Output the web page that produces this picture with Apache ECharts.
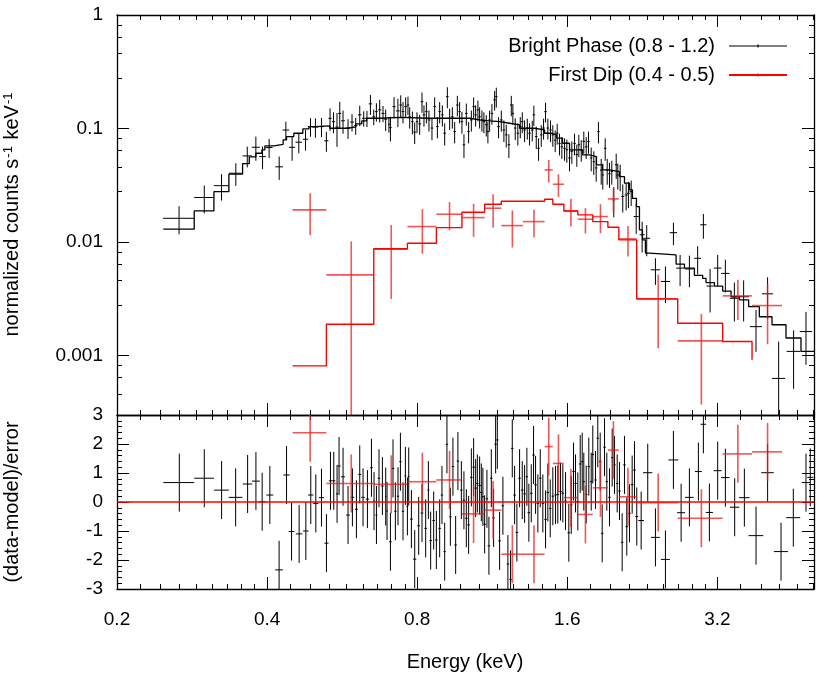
<!DOCTYPE html>
<html>
<head>
<meta charset="utf-8">
<script src="https://cdn.jsdelivr.net/npm/echarts@6/dist/echarts.min.js"></script>
<style>
  html, body { margin: 0; background: #fff; }
  #chart { width: 830px; height: 692px; }
</style>
</head>
<body>
<div id="chart"></div>
<script>
// ---- bright phase (black) spectrum: bin centre, half width, flux, error ----
const brightE = [0.2664, 0.2993, 0.3241, 0.3462, 0.365, 0.3798, 0.3917, 0.4038, 0.423, 0.4362, 0.449, 0.4631, 0.4777, 0.4888, 0.5, 0.5142, 0.526, 0.535, 0.5435, 0.5524,
  0.5595, 0.568, 0.5813, 0.5921, 0.6023, 0.6136, 0.625, 0.6344, 0.6447, 0.6546, 0.6626, 0.6729, 0.6832, 0.6917, 0.7021, 0.707, 0.7189, 0.7319, 0.7414, 0.7493,
  0.7586, 0.7667, 0.7728, 0.7825, 0.7908, 0.7993, 0.8093, 0.8179, 0.8255, 0.8347, 0.8448, 0.8565, 0.8673, 0.8782, 0.8875, 0.8986, 0.9083, 0.9196, 0.9294, 0.941,
  0.9511, 0.963, 0.9733, 0.9837, 0.9929, 1.0038, 1.0144, 1.0273, 1.0383, 1.0479, 1.0591, 1.0674, 1.0788, 1.0887, 1.1008, 1.109, 1.1178, 1.1298, 1.1439, 1.1528,
  1.165, 1.1798, 1.194, 1.207, 1.2218, 1.2355, 1.2445, 1.2582, 1.2734, 1.2878, 1.2998, 1.3137, 1.3302, 1.3443, 1.3611, 1.3712, 1.3865, 1.4014, 1.4189, 1.4341,
  1.4473, 1.4628, 1.481, 1.4968, 1.5132, 1.5272, 1.5439, 1.5604, 1.58, 1.5968, 1.6168, 1.6341, 1.6546, 1.6721, 1.6877, 1.7065, 1.7269, 1.7462, 1.7647, 1.787,
  1.8084, 1.8285, 1.8478, 1.8715, 1.8852, 1.9062, 1.924, 1.9444, 1.9652, 1.9834, 2.0056, 2.0204, 2.0427, 2.0673, 2.0999, 2.1222, 2.1493, 2.1996, 2.2609, 2.3091,
  2.4042, 2.5178, 2.6123, 2.6942, 2.8124, 2.9217, 3.0, 3.0943, 3.2047, 3.3204, 3.4614, 3.6128, 3.8252, 4.0354, 4.2467, 4.5504, 4.8184];
const brightHw = [0.019, 0.0136, 0.0112, 0.011, 0.0079, 0.007, 0.006, 0.0065, 0.0075, 0.0065, 0.0065, 0.007, 0.006, 0.006, 0.007, 0.006, 0.005, 0.004, 0.004, 0.004,
  0.004, 0.005, 0.005, 0.005, 0.005, 0.005, 0.005, 0.005, 0.005, 0.004, 0.004, 0.005, 0.005, 0.005, 0.003, 0.004, 0.005, 0.006, 0.0045, 0.0045,
  0.0045, 0.0045, 0.0045, 0.0045, 0.0045, 0.0045, 0.005, 0.005, 0.005, 0.005, 0.005, 0.005, 0.005, 0.005, 0.005, 0.005, 0.0055, 0.0055, 0.0055, 0.0055,
  0.0055, 0.0055, 0.0055, 0.0055, 0.0055, 0.006, 0.006, 0.006, 0.006, 0.006, 0.006, 0.006, 0.0065, 0.0065, 0.0065, 0.0065, 0.0065, 0.0065, 0.0065, 0.0065,
  0.007, 0.007, 0.007, 0.007, 0.007, 0.007, 0.007, 0.0075, 0.0075, 0.0075, 0.0075, 0.0075, 0.0075, 0.008, 0.008, 0.008, 0.008, 0.008, 0.008, 0.008,
  0.0085, 0.0085, 0.0085, 0.0085, 0.0085, 0.009, 0.009, 0.009, 0.009, 0.009, 0.0095, 0.0095, 0.0095, 0.0095, 0.0095, 0.01, 0.01, 0.01, 0.01, 0.01,
  0.0105, 0.0105, 0.0105, 0.0105, 0.0105, 0.011, 0.011, 0.011, 0.011, 0.011, 0.0115, 0.0115, 0.012, 0.014, 0.014, 0.014, 0.016, 0.025, 0.026, 0.037,
  0.052, 0.052, 0.044, 0.05, 0.057, 0.047, 0.043, 0.051, 0.056, 0.064, 0.073, 0.09, 0.106, 0.104, 0.127, 0.144, 0.137];
const brightFlux = [0.0162, 0.0247, 0.0314, 0.0404, 0.0574, 0.0684, 0.0566, 0.068, 0.046, 0.097, 0.0684, 0.0758, 0.0805, 0.104, 0.103, 0.104, 0.078, 0.123, 0.115, 0.103,
  0.136, 0.117, 0.101, 0.114, 0.106, 0.132, 0.123, 0.123, 0.165, 0.127, 0.141, 0.146, 0.136, 0.121, 0.109, 0.102, 0.156, 0.143, 0.161, 0.141,
  0.156, 0.161, 0.127, 0.115, 0.093, 0.115, 0.11, 0.1725, 0.132, 0.141, 0.119, 0.101, 0.156, 0.104, 0.141, 0.132, 0.091, 0.191, 0.123, 0.127,
  0.094, 0.161, 0.141, 0.115, 0.072, 0.136, 0.094, 0.119, 0.156, 0.132, 0.146, 0.127, 0.119, 0.115, 0.108, 0.094, 0.119, 0.136, 0.179, 0.191,
  0.104, 0.119, 0.097, 0.088, 0.072, 0.161, 0.136, 0.101, 0.091, 0.104, 0.115, 0.097, 0.101, 0.091, 0.097, 0.132, 0.085, 0.067, 0.088, 0.101,
  0.141, 0.101, 0.097, 0.088, 0.079, 0.091, 0.074, 0.069, 0.067, 0.065, 0.055, 0.063, 0.074, 0.059, 0.072, 0.065, 0.077, 0.069, 0.077, 0.055,
  0.051, 0.045, 0.094, 0.043, 0.039, 0.067, 0.043, 0.04, 0.042, 0.0235, 0.048, 0.039, 0.038, 0.0252, 0.026, 0.0269, 0.0278, 0.0168, 0.0116, 0.0108,
  0.0057, 0.0045, 0.0121, 0.0059, 0.0058, 0.0072, 0.0142, 0.0041, 0.0059, 0.0053, 0.0032, 0.0033, 0.0018, 0.0035, 0.00063, 0.00109, 0.00163];
const brightErr = [0.0045, 0.0068, 0.0082, 0.0091, 0.0119, 0.0164, 0.0127, 0.0131, 0.0107, 0.0178, 0.0164, 0.0152, 0.0166, 0.0194, 0.02, 0.02, 0.0156, 0.0276, 0.024, 0.034,
  0.036, 0.027, 0.02, 0.02, 0.018, 0.027, 0.019, 0.02, 0.033, 0.02, 0.026, 0.033, 0.022, 0.026, 0.017, 0.025, 0.033, 0.04, 0.035, 0.03,
  0.032, 0.03, 0.027, 0.026, 0.02, 0.024, 0.022, 0.035, 0.028, 0.03, 0.025, 0.022, 0.032, 0.022, 0.03, 0.028, 0.02, 0.04, 0.026, 0.027,
  0.02, 0.033, 0.03, 0.025, 0.017, 0.03, 0.02, 0.025, 0.032, 0.028, 0.03, 0.027, 0.025, 0.024, 0.023, 0.02, 0.025, 0.028, 0.035, 0.038,
  0.022, 0.025, 0.021, 0.02, 0.017, 0.033, 0.028, 0.022, 0.02, 0.022, 0.024, 0.021, 0.021, 0.02, 0.02, 0.027, 0.019, 0.015, 0.019, 0.021,
  0.028, 0.021, 0.021, 0.019, 0.017, 0.019, 0.016, 0.015, 0.015, 0.015, 0.013, 0.014, 0.016, 0.013, 0.016, 0.014, 0.017, 0.015, 0.017, 0.013,
  0.012, 0.011, 0.02, 0.011, 0.01, 0.015, 0.011, 0.01, 0.01, 0.007, 0.012, 0.01, 0.01, 0.007, 0.007, 0.007, 0.007, 0.005, 0.0035, 0.0033,
  0.0015, 0.0016, 0.0027, 0.0018, 0.0018, 0.002, 0.0035, 0.0017, 0.0018, 0.0017, 0.0012, 0.0013, 0.00072, 0.0014, 0.0007, 0.00058, 0.0008];

// bright phase model histogram: step start energies and model values
const brightModelE = [0.2476, 0.2857, 0.3129, 0.3353, 0.3572, 0.3684, 0.3798, 0.3905, 0.3959, 0.4126, 0.4308, 0.4376, 0.4526, 0.4718, 0.4852, 0.4986, 0.5343, 0.5805, 0.6023, 0.6193,
  0.6335, 0.6729, 0.738, 0.8475, 1.0193, 1.0674, 1.1178, 1.1706, 1.2258, 1.2837, 1.3757, 1.4407, 1.4878, 1.5223, 1.5654, 1.6168, 1.7167, 1.773, 1.8311, 1.8827,
  1.9444, 2.0362, 2.0838, 2.1324, 2.162, 2.2021, 2.233, 2.264, 2.2955, 2.3385, 2.6445, 2.7483, 2.8781, 2.9902, 3.0368, 3.1563, 3.2794, 3.409, 3.5421, 3.6976,
  3.8845, 4.1188, 4.3932, 4.7085, 5.0];
const brightModel = [0.013, 0.0188, 0.0278, 0.0396, 0.0491, 0.0562, 0.0606, 0.0648, 0.0703, 0.0727, 0.0794, 0.0849, 0.0909, 0.0992, 0.104, 0.1054, 0.1006, 0.1033, 0.1098, 0.1166,
  0.1232, 0.1252, 0.1232, 0.1232, 0.119, 0.1166, 0.115, 0.1113, 0.1076, 0.1006, 0.0972, 0.0909, 0.0878, 0.0822, 0.0742, 0.0648, 0.0586, 0.0566, 0.0478, 0.0432,
  0.0417, 0.0377, 0.033, 0.0288, 0.0243, 0.0205, 0.0128, 0.01045, 0.008, 0.0077, 0.0064, 0.0059, 0.0051, 0.0048, 0.0044, 0.0041, 0.0037, 0.0033, 0.0031, 0.0027,
  0.0022, 0.00187, 0.00143, 0.00109, 0.00109];

// bright phase residuals (data-model)/error
const brightResE = [0.2667, 0.2993, 0.3242, 0.3459, 0.3656, 0.3799, 0.391, 0.4051, 0.4228, 0.4376, 0.4478, 0.4638, 0.4784, 0.4894, 0.5009, 0.5142, 0.5262, 0.536, 0.5442, 0.5526,
  0.5577, 0.5681, 0.5813, 0.5932, 0.6043, 0.6136, 0.623, 0.6358, 0.6477, 0.6555, 0.6628, 0.6707, 0.6813, 0.6918, 0.696, 0.707, 0.7155, 0.7234, 0.7322, 0.7404,
  0.7493, 0.7576, 0.7647, 0.7693, 0.7789, 0.7909, 0.8056, 0.818, 0.832, 0.8425, 0.8514, 0.8633, 0.8741, 0.8875, 0.897, 0.9083, 0.9179, 0.9324, 0.9436, 0.9555,
  0.9656, 0.981, 0.9928, 1.0039, 1.0146, 1.0274, 1.0383, 1.0479, 1.0562, 1.0674, 1.0758, 1.0837, 1.0924, 1.104, 1.1142, 1.1266, 1.1386, 1.1492, 1.1583, 1.1706,
  1.1885, 1.2163, 1.2314, 1.2411, 1.2545, 1.2678, 1.2837, 1.2997, 1.3137, 1.3277, 1.3399, 1.3549, 1.3693, 1.3821, 1.3967, 1.4123, 1.4293, 1.4474, 1.4627, 1.4789,
  1.4968, 1.5156, 1.5317, 1.551, 1.5675, 1.5873, 1.6115, 1.6296, 1.6469, 1.6622, 1.6799, 1.6985, 1.7143, 1.727, 1.7463, 1.7673, 1.787, 1.8001, 1.8228, 1.8421,
  1.8627, 1.88, 1.9003, 1.9205, 1.9444, 1.9687, 1.9899, 2.0148, 2.0362, 2.0617, 2.0838, 2.106, 2.1324, 2.1591, 2.1823, 2.2055, 2.2506, 2.3201, 2.4042, 2.5177,
  2.6122, 2.7068, 2.8124, 2.9316, 3.0, 3.0843, 3.2046, 3.3207, 3.4663, 3.625, 3.8259, 4.036, 4.2937, 4.5442, 4.8185, 4.915];
const brightResHw = [0.019, 0.0136, 0.011, 0.011, 0.008, 0.007, 0.006, 0.0065, 0.0075, 0.0065, 0.006, 0.007, 0.006, 0.006, 0.006, 0.006, 0.005, 0.004, 0.004, 0.003,
  0.004, 0.005, 0.005, 0.005, 0.004, 0.004, 0.005, 0.005, 0.004, 0.003, 0.003, 0.004, 0.004, 0.002, 0.003, 0.004, 0.004, 0.004, 0.004, 0.004,
  0.004, 0.003, 0.003, 0.003, 0.005, 0.006, 0.005, 0.005, 0.005, 0.004, 0.005, 0.005, 0.005, 0.005, 0.005, 0.005, 0.005, 0.0055, 0.0055, 0.0055,
  0.0055, 0.0055, 0.0055, 0.006, 0.006, 0.006, 0.006, 0.006, 0.006, 0.006, 0.006, 0.006, 0.0065, 0.0065, 0.0065, 0.0065, 0.0065, 0.0065, 0.0065, 0.007,
  0.007, 0.007, 0.007, 0.007, 0.0075, 0.0075, 0.0075, 0.0075, 0.0075, 0.0075, 0.008, 0.008, 0.008, 0.008, 0.008, 0.008, 0.008, 0.0085, 0.0085, 0.0085,
  0.0085, 0.0085, 0.009, 0.009, 0.009, 0.009, 0.0095, 0.0095, 0.0095, 0.0095, 0.0095, 0.01, 0.01, 0.01, 0.01, 0.01, 0.01, 0.0105, 0.0105, 0.0105,
  0.0105, 0.0105, 0.011, 0.011, 0.011, 0.011, 0.011, 0.0115, 0.012, 0.012, 0.012, 0.012, 0.013, 0.013, 0.013, 0.014, 0.03, 0.05, 0.049, 0.052,
  0.06, 0.05, 0.056, 0.047, 0.038, 0.051, 0.059, 0.065, 0.076, 0.088, 0.13, 0.116, 0.14, 0.147, 0.094, 0.068];
const brightRes = [0.67, 0.82, 0.41, 0.16, 0.62, 0.72, 0.01, 0.24, -2.34, 0.93, -1.02, -1.10, -1.0, 0.24, -0.05, 0.15, -1.42, 0.73, 0.73, 0.28,
  1.24, 0.87, -0.45, 0.16, -0.25, 0.95, 0.16, 0.1, 1.18, 0.03, -0.45, 0.82, 0.55, 0.19, -0.31, -1.37, 1.16, -0.32, 0.2, 1.39,
  -0.32, 0.9, -0.15, 0.88, -0.59, -1.97, -0.82, -0.38, -0.91, 0.41, -1.33, -0.64, -1.31, -0.91, 0.24, -1.71, 1.99, -0.51, 1.22, -1.48,
  1.41, 0.41, 0.06, -0.56, -0.79, 0.85, 1.2, 0.48, 0.64, 0.57, 0.33, 0.18, -0.77, 0.11, -1.51, 0.82, -0.55, 1.99, 2.14, -1.34,
  -0.13, -2.14, -2.67, 1.85, 0.24, -1.05, 0.82, 0.41, 0.28, 0.87, -0.37, 0.3, 1.62, 0.59, -0.05, 0.82, -0.05, -0.6, 0.33, -0.22,
  0.2, 0.24, 0.26, 0.36, 0.3, 0.03, -1.06, -0.1, 1.05, 0.64, 0.02, 1.31, 1.39, 0.7, 0.26, 1.22, 0.7, 1.64, 0.76, 2.2,
  1.39, -1.08, 1.89, 0.7, 0.16, 1.53, 1.28, 0.64, 0.38, -1.39, 1.28, -0.85, -0.39, 0.6, 1.1, -0.5, -0.64, 1.01, -1.22, -1.98,
  1.45, -0.37, 0.16, 1.05, 2.68, -0.36, 1.08, 0.84, -0.18, 0.15, -1.16, 1.01, -1.71, -0.54, 0.67, 0.85];

// ---- first dip (red) spectrum ----
const dipE = [0.488, 0.59, 0.7097, 0.8194, 0.9289, 1.038, 1.136, 1.2416, 1.372, 1.4688, 1.536, 1.627, 1.74, 1.865, 1.98, 2.1176, 2.4347, 2.972, 3.5176, 4.0346];
const dipHw = [0.038, 0.064, 0.055, 0.0547, 0.0548, 0.0543, 0.044, 0.0618, 0.0687, 0.028, 0.039, 0.052, 0.06, 0.065, 0.05, 0.0874, 0.2298, 0.3075, 0.238, 0.279];
const dipFlux = [0.0192, 0.00514, 0.00866, 0.0137, 0.0176, 0.01643, 0.01988, 0.01397, 0.01515, 0.0432, 0.0323, 0.0188, 0.0159, 0.01677, 0.024, 0.01067, 0.00316, 0.00135, 0.00336, 0.00276];
const dipErr = [0.0077, 0.005, 0.0055, 0.0058, 0.0049, 0.0053, 0.0065, 0.005, 0.0041, 0.0097, 0.0073, 0.0051, 0.004, 0.0048, 0.0058, 0.0032, 0.002, 0.00098, 0.0013, 0.0015];
const dipModelE = [0.4499, 0.526, 0.6546, 0.7647, 0.8741, 0.9837, 1.0923, 1.1798, 1.3034, 1.4407, 1.4968, 1.575, 1.6796, 1.8002, 1.93, 2.0302, 2.2049, 2.6644, 3.2794, 3.7558];
const dipModel = [0.000813, 0.00189, 0.00873, 0.00978, 0.0134, 0.01834, 0.02157, 0.0229, 0.0229, 0.02385, 0.02157, 0.0188, 0.01736, 0.01515, 0.01353, 0.01045, 0.00316, 0.00193, 0.00133, 0.00092];
const dipRes = [2.39, 0.64, 0.61, 0.70, 0.76, -0.41, -0.28, -1.80, -1.80, 1.91, 1.33, 0.15, -0.43, 0.49, 1.79, 0.18, -0.02, -0.56, 1.66, 1.73];

// ---- axes ----
const xMajor = [0.2, 0.4, 0.8, 1.6, 3.2];
const yMajor = [0.001, 0.01, 0.1, 1];
const resMajor = [-3, -2, -1, 0, 1, 2, 3];
const X_MIN = 0.2, X_MAX = 5, Y_MIN = 0.0003, Y_MAX = 1;

const FONT = "'Liberation Sans', Arial, Helvetica, sans-serif";
const RED = '#ff0000';
const BRIGHT = 'Bright Phase (0.8 - 1.2)';
const DIP = 'First Dip (0.4 - 0.5)';

// minor ticks: octaves split in 9, decades split in 5, residual units split in 5
const xMinor = [];
xMajor.forEach(m => { for (let k = 1; k < 9; k++) { const v = m + m * k / 9; if (v < X_MAX) xMinor.push(v); } });
const yMinor = [];
[0.0001, 0.001, 0.01, 0.1].forEach(d => { for (let k = 1; k < 5; k++) { const v = d * (1 + 1.8 * k); if (v > Y_MIN && v < Y_MAX) yMinor.push(v); } });
const resMinor = [];
for (let i = -15; i <= 15; i++) { if (i % 5 !== 0) resMinor.push(i / 5); }

const fmt = v => String(+(+v).toPrecision(4));
const labelStyle = { color: '#000', fontSize: 19, fontFamily: FONT, formatter: fmt };

function tickAxis(o) {
  const a = {
    type: o.type, gridIndex: o.grid, position: o.pos, min: o.min, max: o.max,
    axisLine: { show: o.major, onZero: false, lineStyle: { color: '#000', width: 1.3 } },
    axisTick: { show: true, inside: true, length: o.major ? 12 : 5, customValues: o.ticks, lineStyle: { color: '#000', width: 1 } },
    axisLabel: o.labels ? Object.assign({ show: true, customValues: o.ticks, margin: o.margin }, labelStyle) : { show: false },
    splitLine: { show: false },
    axisPointer: { show: false }
  };
  if (o.type === 'log') a.logBase = o.base;
  return a;
}

function xSet(grid, labels) {
  const base = { type: 'log', base: 2, grid, min: X_MIN, max: X_MAX };
  return [
    tickAxis(Object.assign({}, base, { pos: 'bottom', major: true, ticks: xMajor, labels, margin: 21 })),
    tickAxis(Object.assign({}, base, { pos: 'bottom', major: false, ticks: xMinor })),
    tickAxis(Object.assign({}, base, { pos: 'top', major: true, ticks: xMajor })),
    tickAxis(Object.assign({}, base, { pos: 'top', major: false, ticks: xMinor }))
  ];
}
function ySet(grid, base, type, min, max, major, minor) {
  const b = { type, base, grid, min, max };
  return [
    tickAxis(Object.assign({}, b, { pos: 'left', major: true, ticks: major, labels: true, margin: 14 })),
    tickAxis(Object.assign({}, b, { pos: 'left', major: false, ticks: minor })),
    tickAxis(Object.assign({}, b, { pos: 'right', major: true, ticks: major })),
    tickAxis(Object.assign({}, b, { pos: 'right', major: false, ticks: minor }))
  ];
}
const xTop = xSet(0, false), xBot = xSet(1, true);
const yTop = ySet(0, 10, 'log', Y_MIN, Y_MAX, yMajor, yMinor);
const yBot = ySet(1, null, 'value', -3, 3, resMajor, resMinor);
// index 0 / 1 are the axes the series use
const xAxes = [xTop[0], xBot[0]].concat(xTop.slice(1), xBot.slice(1));
const yAxes = [yTop[0], yBot[0]].concat(yTop.slice(1), yBot.slice(1));

// error-bar crosses drawn through the axis scales
function crosses(color, width, floor) {
  return function (params, api) {
    const e = api.value(0), hw = api.value(1), v = api.value(2), s = api.value(3);
    const lo = Math.max(v - s, floor);
    const a = api.coord([e - hw, v]), b = api.coord([e + hw, v]);
    const t = api.coord([e, v + s]), d = api.coord([e, lo]);
    const st = { stroke: color, lineWidth: width };
    return {
      type: 'group',
      children: [
        { type: 'line', shape: { x1: a[0], y1: a[1], x2: b[0], y2: b[1] }, style: st },
        { type: 'line', shape: { x1: t[0], y1: t[1], x2: d[0], y2: d[1] }, style: st }
      ]
    };
  };
}

const brightData = brightE.map((e, i) => [e, brightHw[i], brightFlux[i], brightErr[i]]);
const dipData = dipE.map((e, i) => [e, dipHw[i], dipFlux[i], dipErr[i]]);
const brightResData = brightResE.map((e, i) => [e, brightResHw[i], brightRes[i], 1]);
const dipResData = dipE.map((e, i) => [e, dipHw[i], dipRes[i], 1]);

const chart = echarts.init(document.getElementById('chart'), null, { renderer: 'canvas' });
chart.setOption({
  animation: false,
  backgroundColor: '#fff',
  grid: [
    { left: 117, right: 16, top: 15, height: 400 },
    { left: 117, right: 16, top: 415, height: 174 }
  ],
  xAxis: xAxes,
  yAxis: yAxes,
  legend: {
    data: [
      { name: BRIGHT, icon: 'path://M0,2H58V3.2H0ZM28.4,1H29.6V4.2H28.4Z', itemStyle: { color: '#000' } },
      { name: DIP, icon: 'path://M0,1.7H58V3.5H0ZM28.4,1H29.6V4.2H28.4Z', itemStyle: { color: RED } }
    ],
    orient: 'vertical', align: 'right', right: 38, top: 31,
    itemWidth: 58, itemHeight: 5, itemGap: 9, selectedMode: false,
    textStyle: { color: '#000', fontSize: 20, fontFamily: FONT, padding: [0, 9, 0, 0] }
  },
  graphic: [
    {
      type: 'text', x: 12, y: 214, rotation: Math.PI / 2,
      style: {
        text: '{a|normalized counts s}{s|-1}{a| keV}{s|-1}',
        align: 'center', verticalAlign: 'middle', fill: '#000',
        rich: {
          a: { fontSize: 20, fontFamily: FONT, fill: '#000', verticalAlign: 'bottom' },
          s: { fontSize: 13, fontFamily: FONT, fill: '#000', verticalAlign: 'top', padding: [0, 1, 0, 1] }
        }
      }
    },
    {
      type: 'text', x: 12, y: 502, rotation: Math.PI / 2,
      style: { text: '(data-model)/error', align: 'center', verticalAlign: 'middle', fontSize: 20, fontFamily: FONT, fill: '#000' }
    },
    {
      type: 'text', x: 465, y: 662,
      style: { text: 'Energy (keV)', align: 'center', verticalAlign: 'middle', fontSize: 20, fontFamily: FONT, fill: '#000' }
    }
  ],
  series: [
    {
      name: BRIGHT, type: 'custom', xAxisIndex: 0, yAxisIndex: 0, clip: true,
      itemStyle: { color: '#000' }, encode: { x: 0, y: 2 },
      renderItem: crosses('#000', 1, 1e-7), data: brightData, z: 3
    },
    {
      name: 'Bright model', type: 'line', xAxisIndex: 0, yAxisIndex: 0, step: 'end',
      showSymbol: false, symbol: 'none', silent: true,
      lineStyle: { color: '#000', width: 1.3 },
      data: brightModelE.map((e, i) => [e, brightModel[i]]), z: 4
    },
    {
      name: DIP, type: 'custom', xAxisIndex: 0, yAxisIndex: 0, clip: true,
      itemStyle: { color: RED }, encode: { x: 0, y: 2 },
      renderItem: crosses('rgba(238,30,30,0.75)', 1.6, 1e-7), data: dipData, z: 5
    },
    {
      name: 'Dip model', type: 'line', xAxisIndex: 0, yAxisIndex: 0, step: 'end',
      showSymbol: false, symbol: 'none', silent: true,
      lineStyle: { color: RED, width: 1.4 },
      data: dipModelE.map((e, i) => [e, dipModel[i]]), z: 6
    },
    {
      name: BRIGHT, type: 'custom', xAxisIndex: 1, yAxisIndex: 1, clip: true,
      itemStyle: { color: '#000' }, encode: { x: 0, y: 2 },
      renderItem: crosses('#000', 1, -Infinity), data: brightResData, z: 3
    },
    {
      name: DIP, type: 'custom', xAxisIndex: 1, yAxisIndex: 1, clip: true,
      itemStyle: { color: RED }, encode: { x: 0, y: 2 },
      renderItem: crosses('rgba(238,30,30,0.75)', 1.6, -Infinity), data: dipResData, z: 5,
      markLine: {
        silent: true, symbol: 'none', label: { show: false },
        lineStyle: { color: RED, width: 1.6, type: 'solid' },
        data: [{ yAxis: 0 }]
      }
    }
  ]
});
</script>
</body>
</html>
